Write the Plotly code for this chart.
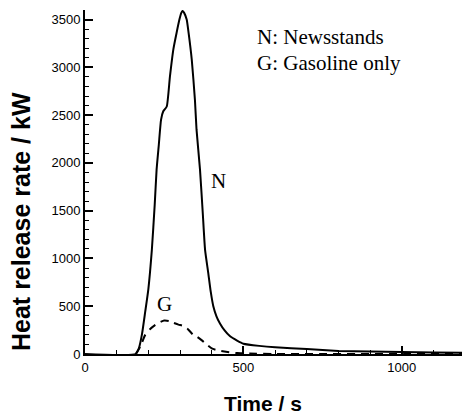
# Heat release rate curves: newsstands vs gasoline only
import plotly.graph_objects as go

# Newsstands (N) - solid curve
time_n = [0, 160, 170, 180, 190, 200, 211, 220, 226, 233, 240, 247, 258, 268, 279,
          289, 298, 304, 308, 313, 321, 327, 337, 347, 352, 363, 372, 379, 389, 397,
          405, 415, 426, 440, 458, 480, 500, 550, 600, 700, 800, 900, 1000, 1100, 1190]
hrr_n = [0, 0, 60, 210, 440, 680, 1090, 1560, 1930, 2190, 2450, 2540, 2590, 2900, 3190,
         3360, 3500, 3570, 3590, 3570, 3500, 3360, 3080, 2660, 2350, 1930, 1460, 1090, 850, 650,
         500, 395, 320, 250, 185, 140, 108, 85, 70, 52, 32, 25, 21, 16, 12]

# Gasoline only (G) - dashed curve
time_g = [160, 175, 190, 205, 220, 235, 250, 265, 280, 295, 310, 325, 340, 355, 370,
          385, 400, 420, 440, 460, 480, 520, 600, 1190]
hrr_g = [0, 80, 200, 260, 300, 330, 350, 345, 325, 307, 295, 260, 205, 178, 140,
         97, 58, 38, 27, 17, 10, 5, 0, 0]

x_ticks = [0, 500, 1000]
y_ticks = [0, 500, 1000, 1500, 2000, 2500, 3000, 3500]

W, H = 462, 414
L, R, T, B = 85, 0, 10, 60

def px_x(px):
    return (px - L) / (W - L - R)

def px_y(py):
    return 1 - (py - T) / (H - T - B)

fig = go.Figure()

fig.add_trace(go.Scatter(x = time_n, y = hrr_n, mode = 'lines',
                         line = dict(color = 'black', width = 2, shape = 'spline', smoothing = 0.5),
                         showlegend = False))
fig.add_trace(go.Scatter(x = time_g, y = hrr_g, mode = 'lines',
                         line = dict(color = 'black', width = 2, dash = '8px,6px',
                                     shape = 'spline', smoothing = 0.5),
                         showlegend = False))

serif = dict(family = 'Liberation Serif', size = 21, color = 'black')
sans_bold = 'Liberation Sans'

annotations = [
    dict(text = 'N: Newsstands', x = px_x(255), y = px_y(37), xanchor = 'left', yanchor = 'middle'),
    dict(text = 'G: Gasoline only', x = px_x(255), y = px_y(63), xanchor = 'left', yanchor = 'middle'),
    dict(text = 'N', x = px_x(218), y = px_y(181), xanchor = 'center', yanchor = 'middle'),
    dict(text = 'G', x = px_x(164), y = px_y(304), xanchor = 'center', yanchor = 'middle'),
]
for a in annotations:
    fig.add_annotation(xref = 'paper', yref = 'paper', showarrow = False, font = serif, **a)

# Axis titles as annotations for exact placement
fig.add_annotation(text = '<b>Time / s</b>', xref = 'paper', yref = 'paper',
                   x = px_x(263), y = px_y(403), xanchor = 'center', yanchor = 'middle',
                   showarrow = False, font = dict(family = sans_bold, size = 21, color = 'black'))
fig.add_annotation(text = '<b>Heat release rate / kW</b>', xref = 'paper', yref = 'paper',
                   x = px_x(21), y = px_y(222), xanchor = 'center', yanchor = 'middle',
                   textangle = -90, showarrow = False,
                   font = dict(family = sans_bold, size = 25, color = 'black'))

axis_common = dict(showline = True, linecolor = 'black', linewidth = 2,
                   ticks = 'inside', ticklen = 8, tickwidth = 1.5, tickcolor = 'black',
                   showgrid = False, zeroline = False, automargin = False,
                   tickfont = dict(family = 'Liberation Sans', size = 13, color = 'black'))

fig.update_xaxes(range = [0, 1190], tickvals = x_ticks,
                 minor = dict(dtick = 100, tick0 = 0, ticks = 'inside', ticklen = 4,
                              tickwidth = 1, tickcolor = 'black', showgrid = False),
                 **axis_common)
fig.update_yaxes(range = [0, 3600], tickvals = y_ticks,
                 minor = dict(dtick = 100, tick0 = 0, ticks = 'inside', ticklen = 4,
                              tickwidth = 1, tickcolor = 'black', showgrid = False),
                 **axis_common)

fig.update_layout(width = W, height = H,
                  margin = dict(l = L, r = R, t = T, b = B),
                  plot_bgcolor = 'white', paper_bgcolor = 'white')

# remove the default page margin so the figure sits at the window's corner
fig.write_html("out.html", config = {'displayModeBar': False},
               post_script = "document.body.style.margin = '0';")
